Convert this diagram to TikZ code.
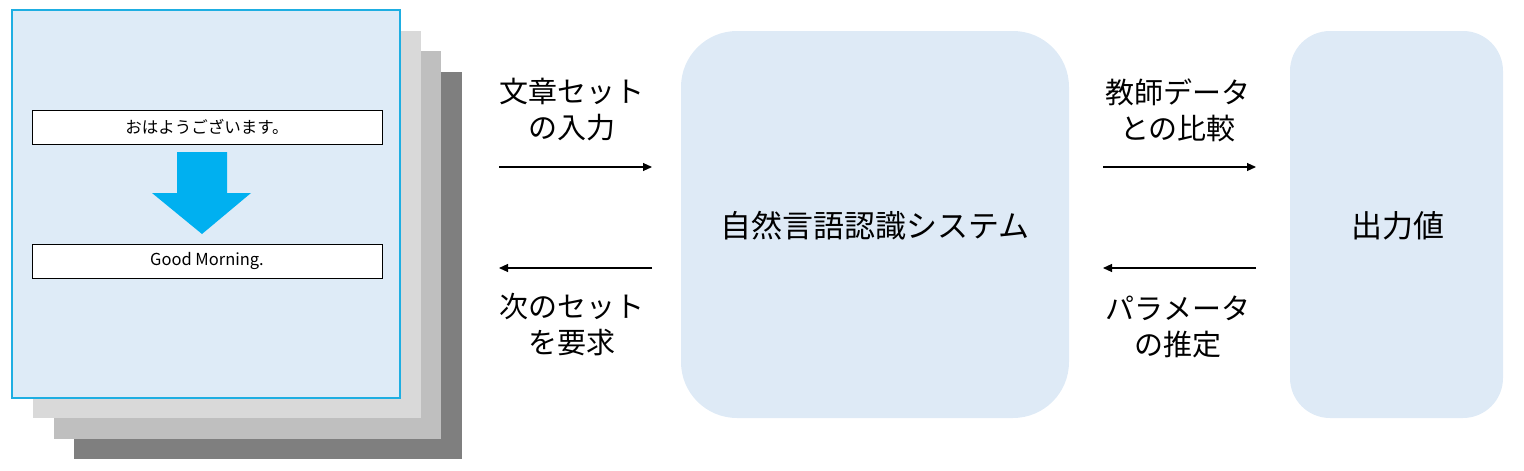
\documentclass[tikz,border=0pt]{standalone}
\usepackage{fontspec}
\setmainfont{Noto Sans CJK JP}
\usetikzlibrary{arrows.meta}
\definecolor{cardfill}{HTML}{DEEBF7}
\definecolor{cardline}{HTML}{1EAEE2}
\definecolor{layerA}{HTML}{D9D9D9}
\definecolor{layerB}{HTML}{BFBFBF}
\definecolor{layerC}{HTML}{7F7F7F}
\definecolor{bluearrow}{HTML}{00B0F0}
\definecolor{sysfill}{HTML}{DEEAF6}
\tikzset{
  flow/.style={-{Triangle[length=9pt,width=8pt]}, line width=1.1pt, black},
  lbl/.style={align=center, inner sep=0pt, font=\fontsize{29}{36}\selectfont},
  sentbox/.style={draw=black, line width=1pt, fill=white, minimum width=350pt, minimum height=34pt, inner sep=0pt, font=\fontsize{16.5}{20}\selectfont},
  bigtext/.style={inner sep=0pt, font=\fontsize{31}{36}\selectfont},
}
\begin{document}
\begin{tikzpicture}[x=1pt,y=-1pt]
\useasboundingbox (0,0) rectangle (1524,471);
% stacked layers
\fill[layerC] (74,72) rectangle (462,459);
\fill[layerB] (54,51) rectangle (441,439);
\fill[layerA] (33,31) rectangle (421,418);
\draw[cardline, fill=cardfill, line width=2pt] (12,10) rectangle (400,398);
% sentence boxes
\node[sentbox] (jp) at (207,127) {おはようございます。};
\node[sentbox] (en) at (207,261) {Good Morning.};
% blue block arrow
\fill[bluearrow] (177,152) -- (227,152) -- (227,193) -- (251,193) -- (202,234) -- (152,193) -- (177,193) -- cycle;
% system box
\draw[draw=none, fill=sysfill, rounded corners=56pt] (681,31) rectangle (1069,418);
\node[bigtext] (sys) at (875,226) {自然言語認識システム};
% output box
\draw[draw=none, fill=sysfill, rounded corners=40pt] (1290,31) rectangle (1503,418);
\node[bigtext] (out) at (1398,226) {出力値};
% arrows left
\coordinate (la1) at (499,167);
\coordinate (la2) at (652,167);
\coordinate (lb1) at (652,268);
\coordinate (lb2) at (499,268);
\draw[flow] (la1) -- (la2);
\draw[flow] (lb1) -- (lb2);
\coordinate (ra1) at (1103,167);
\coordinate (ra2) at (1256,167);
\coordinate (rb1) at (1256,268);
\coordinate (rb2) at (1103,268);
\draw[flow] (ra1) -- (ra2);
\draw[flow] (rb1) -- (rb2);
% labels
\node[lbl] (l1) at (572,110) {文章セット\\の入力};
\node[lbl] (l2) at (572,325) {次のセット\\を要求};
\node[lbl] (l3) at (1178,110) {教師データ\\との比較};
\node[lbl] (l4) at (1178,327) {パラメータ\\の推定};
\end{tikzpicture}
\end{document}
